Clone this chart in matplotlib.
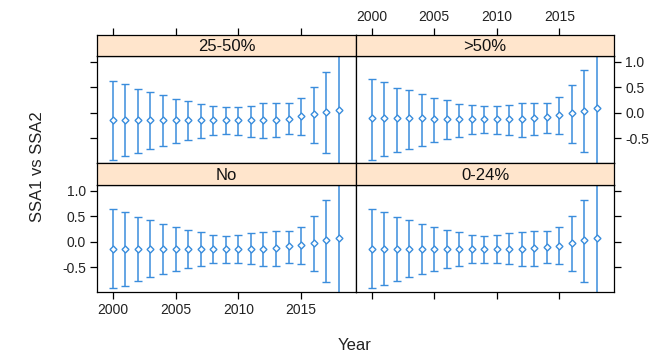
import matplotlib
matplotlib.use("Agg")
import matplotlib.pyplot as plt
import numpy as np

plt.rcParams['font.family'] = ['Liberation Sans', 'DejaVu Sans']

years = list(range(2000, 2019))

# estimates and confidence limits per group
est_25_50 = [-0.14, -0.14, -0.14, -0.14, -0.14, -0.15, -0.15, -0.15, -0.15, -0.15,
             -0.15, -0.15, -0.15, -0.14, -0.12, -0.07, -0.03, 0.02, 0.05]
lo_25_50 = [-0.94, -0.86, -0.79, -0.72, -0.66, -0.60, -0.53, -0.49, -0.45, -0.43,
            -0.45, -0.47, -0.49, -0.47, -0.43, -0.45, -0.60, -0.79, -2.5]
hi_25_50 = [0.62, 0.57, 0.47, 0.41, 0.35, 0.26, 0.22, 0.16, 0.13, 0.11,
            0.11, 0.13, 0.18, 0.18, 0.18, 0.28, 0.51, 0.80, 2.6]

est_gt50 = [-0.11, -0.11, -0.11, -0.11, -0.11, -0.13, -0.13, -0.13, -0.13, -0.13,
            -0.13, -0.13, -0.13, -0.11, -0.09, -0.05, -0.01, 0.03, 0.08]
lo_gt50 = [-0.93, -0.85, -0.78, -0.71, -0.65, -0.58, -0.51, -0.47, -0.43, -0.41,
           -0.43, -0.45, -0.47, -0.45, -0.41, -0.43, -0.59, -0.78, -2.5]
hi_gt50 = [0.65, 0.59, 0.49, 0.44, 0.37, 0.28, 0.24, 0.17, 0.15, 0.13,
           0.13, 0.15, 0.19, 0.19, 0.19, 0.30, 0.54, 0.83, 2.6]

est_no = [-0.14, -0.14, -0.14, -0.14, -0.14, -0.14, -0.14, -0.14, -0.14, -0.14,
          -0.14, -0.14, -0.14, -0.12, -0.09, -0.07, -0.03, 0.03, 0.07]
lo_no = [-0.92, -0.87, -0.77, -0.70, -0.64, -0.58, -0.51, -0.47, -0.43, -0.43,
         -0.43, -0.45, -0.47, -0.47, -0.43, -0.45, -0.58, -0.79, -2.5]
hi_no = [0.64, 0.58, 0.49, 0.43, 0.35, 0.28, 0.22, 0.18, 0.13, 0.11,
         0.13, 0.16, 0.18, 0.20, 0.20, 0.28, 0.51, 0.82, 2.6]

est_0_24 = [-0.14, -0.14, -0.14, -0.14, -0.14, -0.14, -0.14, -0.14, -0.14, -0.14,
            -0.14, -0.14, -0.14, -0.12, -0.10, -0.08, -0.03, 0.03, 0.07]
lo_0_24 = [-0.92, -0.86, -0.77, -0.70, -0.64, -0.58, -0.51, -0.47, -0.43, -0.43,
           -0.43, -0.45, -0.47, -0.47, -0.43, -0.45, -0.58, -0.79, -2.5]
hi_0_24 = [0.64, 0.58, 0.49, 0.43, 0.35, 0.28, 0.22, 0.18, 0.13, 0.11,
           0.13, 0.16, 0.18, 0.20, 0.20, 0.28, 0.51, 0.82, 2.6]

xticks = [2000, 2005, 2010, 2015]
yticks = [-0.5, 0.0, 0.5, 1.0]
ytick_labels = ['-0.5', '0.0', '0.5', '1.0']

# (label, est, lo, hi, row, col)
panels = [
    ('25-50%', est_25_50, lo_25_50, hi_25_50, 0, 0),
    ('>50%', est_gt50, lo_gt50, hi_gt50, 0, 1),
    ('No', est_no, lo_no, hi_no, 1, 0),
    ('0-24%', est_0_24, lo_0_24, hi_0_24, 1, 1),
]

W, H = 657, 354
col_x = [97, 356]
col_w = [259, 258]
row_panel = [(56, 163), (185, 292)]
row_strip = [(35, 56), (163, 185)]

blue = '#3a8ddc'
strip_col = '#ffe5cc'
xlim = (1998.75, 2019.37)
ylim = (-0.99, 1.11)

fig = plt.figure(figsize=(W / 100, H / 100), dpi=100)

def rect(x0, y0, y1, w):
    return [x0 / W, 1 - y1 / H, w / W, (y1 - y0) / H]

for label, est, lo, hi, r, c in panels:
    est = np.array(est)
    lo = np.array(lo)
    hi = np.array(hi)
    ax = fig.add_axes(rect(col_x[c], *row_panel[r], col_w[c]))
    ax.errorbar(years, est, yerr=[est - lo, hi - est], fmt='D', color=blue,
                ms=3.5, mfc='white', mec=blue, mew=1.0, lw=1.1,
                capsize=3, capthick=1.1)
    ax.set_xlim(*xlim)
    ax.set_ylim(*ylim)
    ax.set_xticks(xticks)
    ax.set_yticks(yticks)
    ax.set_yticklabels(ytick_labels)
    for s in ax.spines.values():
        s.set_linewidth(0.9)
    ax.tick_params(direction='out', length=5, width=0.9, labelsize=10,
                   colors='black', labelcolor='#222222', pad=3)
    # x ticks only on the outer bottom edge
    ax.tick_params(axis='x', bottom=(r == 1), labelbottom=(r == 1 and c == 0),
                   top=False, labeltop=False)
    # y ticks on outer sides, labels alternate
    ax.tick_params(axis='y', left=(c == 0), labelleft=(c == 0 and r == 1),
                   right=(c == 1), labelright=(c == 1 and r == 0))

    sx = fig.add_axes(rect(col_x[c], *row_strip[r], col_w[c]))
    sx.set_facecolor(strip_col)
    sx.set_xlim(*xlim)
    sx.set_ylim(0, 1)
    sx.set_yticks([])
    for s in sx.spines.values():
        s.set_linewidth(0.9)
    sx.text(0.5, 0.45, label, transform=sx.transAxes, ha='center', va='center',
            fontsize=12, color='#111111')
    if r == 0:
        sx.set_xticks(xticks)
        sx.tick_params(axis='x', bottom=False, labelbottom=False, top=True,
                       labeltop=(c == 1), direction='out', length=5, width=0.9,
                       labelsize=10, labelcolor='#222222', pad=3)
    else:
        sx.set_xticks([])

fig.text(38 / W, 1 - 167 / H, 'SSA1 vs SSA2', rotation=90, ha='center',
         va='center', fontsize=12, color='#222222')
fig.text(355 / W, 1 - 345 / H, 'Year', ha='center', va='center',
         fontsize=12, color='#222222')

fig.savefig('out.png', dpi=100)
